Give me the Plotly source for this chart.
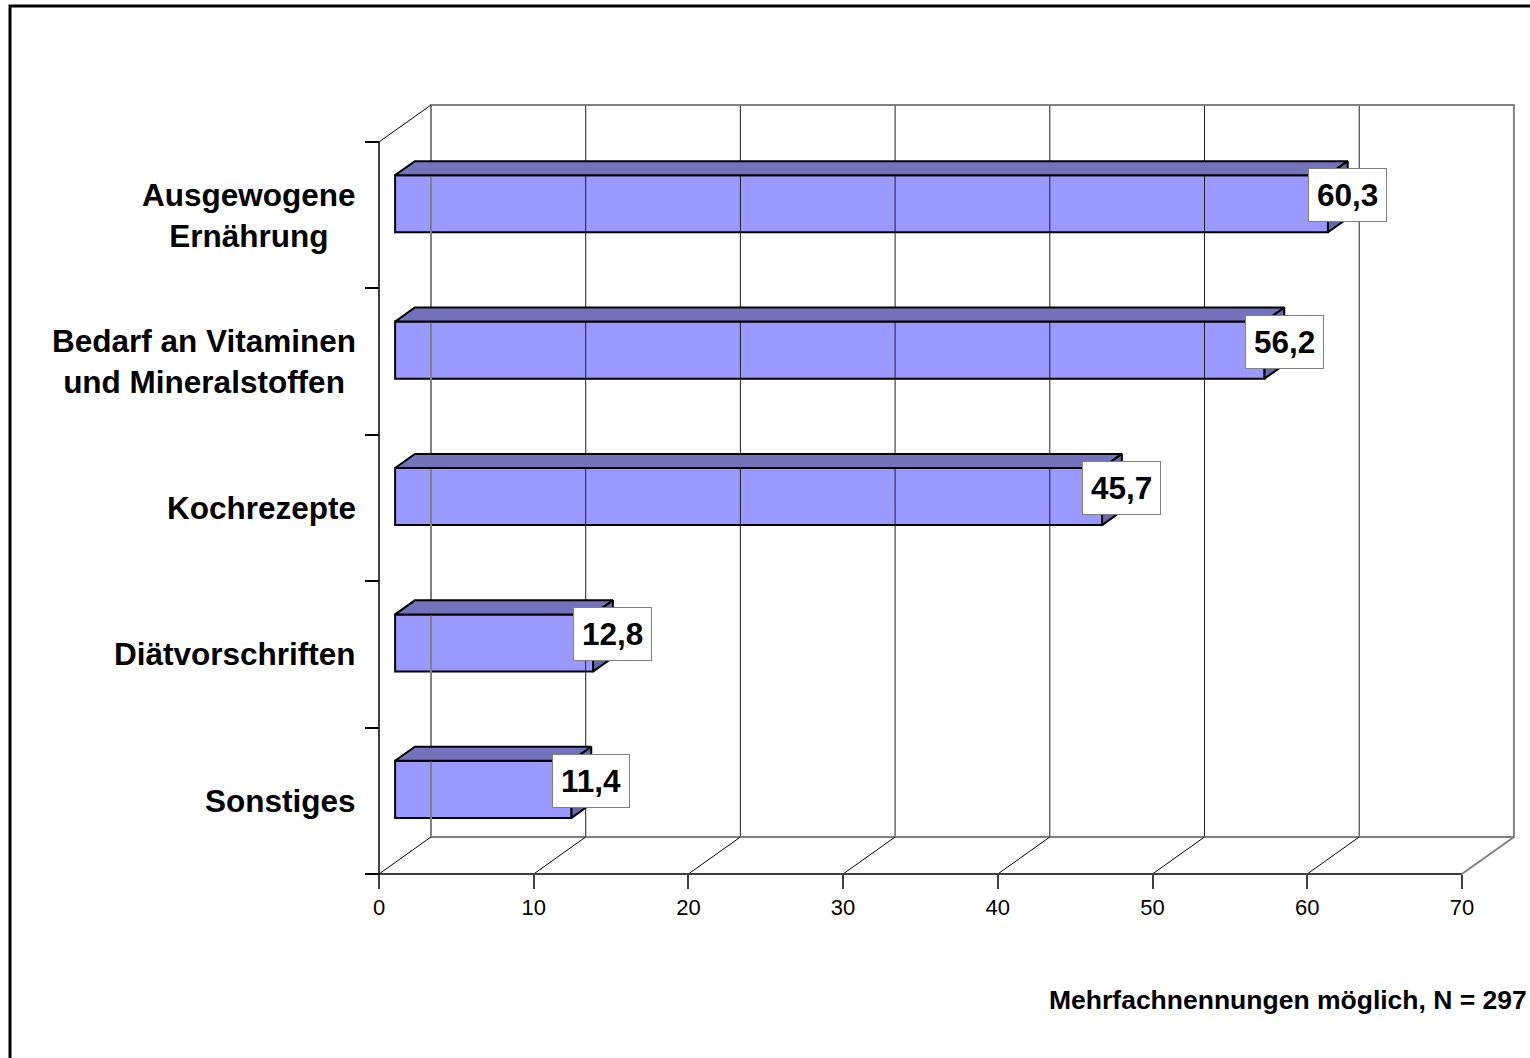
import plotly.graph_objects as go

# Daten
kategorien = [
    "Ausgewogene<br>Ernährung",
    "Bedarf an Vitaminen<br>und Mineralstoffen",
    "Kochrezepte",
    "Diätvorschriften",
    "Sonstiges",
]
werte = [60.3, 56.2, 45.7, 12.8, 11.4]
x_ticks = [0, 10, 20, 30, 40, 50, 60, 70]
fussnote = "Mehrfachnennungen möglich, N = 297"

W, H = 1530, 1058
FONT = "Liberation Sans, Arial, sans-serif"

# Geometrie der Vorderebene (Pixel) und 3D-Tiefe
X0_PX, PX_PER_X = 379, 15.47
Y0_PX, PX_PER_Y = 142, 146.4          # y = -0.5 liegt bei 142 px
DEPTH_X = 52 / PX_PER_X
DEPTH_Y = 37 / PX_PER_Y
BAR_OFF, BAR_DEPTH, BAR_W = 0.31, 0.38, 0.39
X_RANGE = [-0.4, 73.8]
Y_RANGE = [4.62, -0.86]

FARBE_FRONT = "#9999FF"
FARBE_OBEN = "#7373BD"
FARBE_SEITE = "#6666AA"
GRAU = "#808080"


def px_x(v):
    return X0_PX + v * PX_PER_X


def px_y(v):
    return Y0_PX + (v + 0.5) * PX_PER_Y


fig = go.Figure()


def linie(xs, ys, farbe, breite):
    fig.add_trace(go.Scatter(x=xs, y=ys, mode="lines", hoverinfo="skip",
                             line=dict(color=farbe, width=breite)))


y_oben, y_unten = -0.5, 4.5
# Rückwand: Gitterlinien
for k in x_ticks[1:-1]:
    linie([k + DEPTH_X] * 2, [y_oben - DEPTH_Y, y_unten - DEPTH_Y], "#202020", 1)
# Rückwand: Rahmen
linie([DEPTH_X, DEPTH_X, 70 + DEPTH_X, 70 + DEPTH_X, DEPTH_X],
      [y_unten - DEPTH_Y, y_oben - DEPTH_Y, y_oben - DEPTH_Y, y_unten - DEPTH_Y, y_unten - DEPTH_Y],
      GRAU, 2)
# Boden: Diagonalen
for k in x_ticks:
    linie([k, k + DEPTH_X], [y_unten, y_unten - DEPTH_Y],
          GRAU if k == x_ticks[-1] else "#000000", 2 if k == x_ticks[-1] else 1)
# Seitenwand oben
linie([0, DEPTH_X], [y_oben, y_oben - DEPTH_Y], "#000000", 1)
# vordere Achsen
linie([0, 70], [y_unten, y_unten], "#404040", 2)
linie([0, 0], [y_oben, y_unten], "#000000", 1.5)

# Balken
b = BAR_OFF * DEPTH_X
ddx, ddy = BAR_DEPTH * DEPTH_X, BAR_DEPTH * DEPTH_Y
y_mitte = [i - BAR_OFF * DEPTH_Y for i in range(len(werte))]

for v, yc in zip(werte, y_mitte):
    yt, yb = yc - BAR_W / 2, yc + BAR_W / 2
    fig.add_trace(go.Scatter(
        x=[b, b + v, b + v + ddx, b + ddx, b], y=[yt, yt, yt - ddy, yt - ddy, yt],
        mode="lines", fill="toself", fillcolor=FARBE_OBEN,
        line=dict(color="#000000", width=2), hoverinfo="skip"))
    fig.add_trace(go.Scatter(
        x=[b + v, b + v + ddx, b + v + ddx, b + v, b + v], y=[yt, yt - ddy, yb - ddy, yb, yt],
        mode="lines", fill="toself", fillcolor=FARBE_SEITE,
        line=dict(color="#000000", width=2), hoverinfo="skip"))

fig.add_trace(go.Bar(
    x=werte, y=y_mitte, base=b, width=BAR_W, orientation="h",
    marker=dict(color=FARBE_FRONT, line=dict(color="#000000", width=2)),
    hoverinfo="skip",
))

# Wertbeschriftungen
for v, yc in zip(werte, y_mitte):
    fig.add_annotation(
        x=b + v + ddx, y=yc - 0.058, xref="x", yref="y",
        text=f"<b>{v:.1f}</b>".replace(".", ","), showarrow=False,
        font=dict(family=FONT, size=31.5, color="#000000"),
        bgcolor="#FFFFFF", bordercolor=GRAU, borderwidth=1, borderpad=8,
        xanchor="center", yanchor="middle",
    )

# Kategorienbeschriftungen
for i, kat in enumerate(kategorien):
    fig.add_annotation(
        x=358 / W, y=i, xref="paper", yref="y",
        text=f"<b>{kat}</b>", showarrow=False, align="center",
        font=dict(family=FONT, size=31.5, color="#000000"),
        xanchor="right", yanchor="middle",
    )

fig.add_annotation(
    x=1529 / W, y=1 - 1000 / H, xref="paper", yref="paper",
    text=f"<b>{fussnote}</b>", showarrow=False,
    font=dict(family=FONT, size=26.5, color="#000000"),
    xanchor="right", yanchor="middle",
)

fig.add_shape(type="rect", xref="paper", yref="paper",
              x0=10 / W, y0=1 - 6 / H, x1=1.02, y1=-0.02,
              line=dict(color="#000000", width=3))

fig.update_layout(
    width=W, height=H,
    margin=dict(l=0, r=0, t=0, b=0),
    paper_bgcolor="#FFFFFF", plot_bgcolor="#FFFFFF",
    showlegend=False,
    font=dict(family=FONT, color="#000000"),
    xaxis=dict(
        range=X_RANGE,
        domain=[px_x(X_RANGE[0]) / W, px_x(X_RANGE[1]) / W],
        anchor="free", position=1 - px_y(4.5) / H,
        showgrid=False, zeroline=False, showline=False,
        tickvals=x_ticks, ticks="outside", ticklen=14, tickwidth=1.5, tickcolor="#404040",
        tickfont=dict(family=FONT, size=22, color="#000000"),
    ),
    yaxis=dict(
        range=Y_RANGE,
        domain=[1 - px_y(Y_RANGE[0]) / H, 1 - px_y(Y_RANGE[1]) / H],
        anchor="free", position=px_x(0) / W,
        showgrid=False, zeroline=False, showline=False,
        tickvals=[-0.5, 0.5, 1.5, 2.5, 3.5, 4.5], ticks="outside", ticklen=14,
        tickwidth=1.5, tickcolor="#000000", showticklabels=False,
    ),
)

fig.write_html("out.html", config={"displayModeBar": False},
               post_script="document.body.style.margin = '0';")
